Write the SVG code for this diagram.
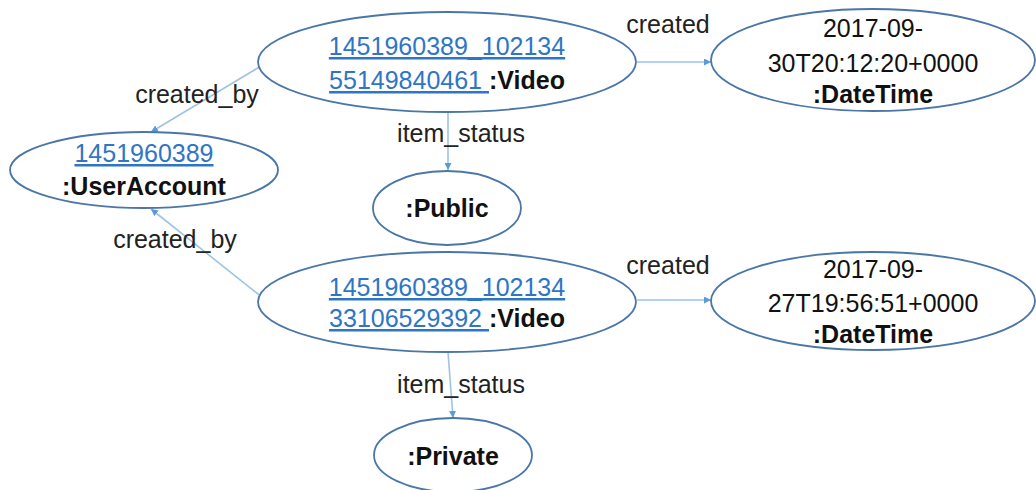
<svg xmlns="http://www.w3.org/2000/svg" width="1036" height="490" viewBox="0 0 1036 490">
<style>
.node{fill:#fff;stroke:#4a76a8;stroke-width:1.8}
.t{font-family:"Liberation Sans",Arial,sans-serif;font-size:25px;fill:#111;text-anchor:middle}
.b{font-weight:bold}
.lk{fill:#2e75c6;text-decoration:underline}
.lbl{font-family:"Liberation Sans",Arial,sans-serif;font-size:25px;fill:#222;text-anchor:middle}
.edge{stroke:#9dc3e6;stroke-width:1.6;fill:none;marker-end:url(#arr)}
</style>
<defs>
<marker id="arr" viewBox="0 0 10 10" refX="10" refY="5" markerWidth="7" markerHeight="7" markerUnits="userSpaceOnUse" orient="auto">
<path d="M0,0 L10,5 L0,10 z" fill="#5b9bd5"/>
</marker>
</defs>
<rect width="1036" height="490" fill="#fff"/>
<g id="connectors">
<line class="edge" x1="637" y1="62" x2="711" y2="62"/>
<line class="edge" x1="448" y1="112" x2="448" y2="170"/>
<line class="edge" x1="261" y1="66" x2="151" y2="132"/>
<line class="edge" x1="263" y1="298" x2="151" y2="209"/>
<line class="edge" x1="637" y1="300" x2="711" y2="300"/>
<line class="edge" x1="448" y1="352" x2="453" y2="418"/>
<text class="lbl" x="668" y="33">created</text>
<text class="lbl" x="461" y="142">item_status</text>
<text class="lbl" x="197" y="103">created_by</text>
<text class="lbl" x="175" y="248">created_by</text>
<text class="lbl" x="668" y="274">created</text>
<text class="lbl" x="461" y="393">item_status</text>
</g>
<g id="video1">
<ellipse class="node" cx="447" cy="62" rx="189" ry="50"/>
<text class="t" x="447" y="55"><tspan class="lk">1451960389_102134</tspan></text>
<text class="t" x="447" y="89"><tspan class="lk">55149840461 </tspan><tspan class="b">:Video</tspan></text>
</g>
<g id="user">
<ellipse class="node" cx="144" cy="170" rx="134" ry="38"/>
<text class="t" x="144" y="162"><tspan class="lk">1451960389</tspan></text>
<text class="t b" x="144" y="195">:UserAccount</text>
</g>
<g id="date1">
<ellipse class="node" cx="873" cy="60" rx="162" ry="51"/>
<text class="t" x="873" y="37">2017-09-</text>
<text class="t" x="873" y="72">30T20:12:20+0000</text>
<text class="t b" x="873" y="103">:DateTime</text>
</g>
<g id="public">
<ellipse class="node" cx="447" cy="208" rx="74" ry="37"/>
<text class="t b" x="447" y="217">:Public</text>
</g>
<g id="video2">
<ellipse class="node" cx="447" cy="302" rx="189" ry="50"/>
<text class="t" x="447" y="296"><tspan class="lk">1451960389_102134</tspan></text>
<text class="t" x="447" y="327"><tspan class="lk">33106529392 </tspan><tspan class="b">:Video</tspan></text>
</g>
<g id="date2">
<ellipse class="node" cx="873" cy="301" rx="162" ry="49"/>
<text class="t" x="873" y="278">2017-09-</text>
<text class="t" x="873" y="312">27T19:56:51+0000</text>
<text class="t b" x="873" y="343">:DateTime</text>
</g>
<g id="private">
<ellipse class="node" cx="453" cy="455" rx="79" ry="37"/>
<text class="t b" x="453" y="465">:Private</text>
</g>
</svg>
